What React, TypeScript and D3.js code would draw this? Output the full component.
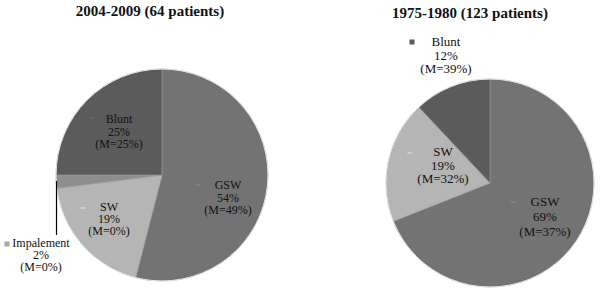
import React from "react";
import * as d3 from "d3";

const leftCategories = ["GSW", "SW", "Impalement", "Blunt"];
const leftValues = [54, 19, 2, 25];
const leftMortality = ["49%", "0%", "0%", "25%"];
const leftTitle = "2004-2009 (64 patients)";

const rightCategories = ["GSW", "SW", "Blunt"];
const rightValues = [69, 19, 12];
const rightMortality = ["37%", "32%", "39%"];
const rightTitle = "1975-1980 (123 patients)";

const colorMap: Record<string, string> = {
  GSW: "#737373",
  SW: "#b5b5b5",
  Impalement: "#8d8d8d",
  Blunt: "#5b5b5b",
};

type LabelPos = { x: number; y: number; mx: number; my: number; gap: number; outside?: boolean };

const leftLabels: Record<string, LabelPos> = {
  GSW: { x: 228, y: 189, mx: 198, my: 185, gap: 12.5 },
  SW: { x: 109, y: 211, mx: 83, my: 208, gap: 12 },
  Impalement: { x: 41, y: 247, mx: 7, my: 244, gap: 12, outside: true },
  Blunt: { x: 119, y: 123, mx: 92, my: 118, gap: 12.5 },
};
const rightLabels: Record<string, LabelPos> = {
  GSW: { x: 545, y: 206, mx: 513, my: 202, gap: 15 },
  SW: { x: 443, y: 156, mx: 410, my: 153, gap: 13.5 },
  Blunt: { x: 446, y: 46, mx: 412, my: 42, gap: 13.5, outside: true },
};

function Pie({ cats, vals, mort, cx, cy, r, labels, fontSize }: any) {
  const data = cats.map((c: string, i: number) => ({ c, v: vals[i], m: mort[i] }));
  const pie = d3.pie<any>().sort(null).value((d) => d.v);
  const arc = d3.arc<any>().innerRadius(0).outerRadius(r);
  const arcs = pie(data);
  return (
    <g>
      <g transform={`translate(${cx},${cy})`}>
        {arcs.map((a, i) => (
          <path key={i} d={arc(a) as string} fill={colorMap[a.data.c]} stroke="#9a9a9a" strokeWidth={0.6} />
        ))}
        <circle r={r} fill="none" stroke="#e6e6e6" strokeWidth={1} />
      </g>
      {arcs.map((a, i) => {
        const L = labels[a.data.c];
        const markerColor = L.outside ? (a.data.c === "Blunt" ? "#5b5b5b" : "#a8a8a8") : d3.color(colorMap[a.data.c])!.brighter(0.35).toString();
        return (
          <g key={"l" + i}>
            <rect x={L.mx - 2.5} y={L.my - (L.outside ? 2.5 : 1)} width={5} height={L.outside ? 5 : 2} fill={markerColor} />
            <text textAnchor="middle" fontFamily="'Liberation Serif', 'Times New Roman', serif" fontSize={fontSize} fill="#111">
              <tspan x={L.x} y={L.y}>{a.data.c}</tspan>
              <tspan x={L.x} y={L.y + L.gap}>{a.data.v + "%"}</tspan>
              <tspan x={L.x} y={L.y + 2 * L.gap}>{"(M=" + a.data.m + ")"}</tspan>
            </text>
          </g>
        );
      })}
    </g>
  );
}

export default function App() {
  return (
    <svg width={601} height={297} style={{ position: "absolute", left: 0, top: 0, background: "#fff" }}>
      <rect width={601} height={297} fill="#fff" />
      <text x={150} y={16} textAnchor="middle" fontFamily="'Liberation Serif', 'Times New Roman', serif" fontWeight="bold" fontSize={15} fill="#111">
        {leftTitle}
      </text>
      <text x={470} y={18} textAnchor="middle" fontFamily="'Liberation Serif', 'Times New Roman', serif" fontWeight="bold" fontSize={15} fill="#111">
        {rightTitle}
      </text>
      <Pie cats={leftCategories} vals={leftValues} mort={leftMortality} cx={162} cy={175} r={106} labels={leftLabels} fontSize={12} />
      <line x1={56.5} y1={181} x2={56.5} y2={235} stroke="#000" strokeWidth={1.2} />
      <Pie cats={rightCategories} vals={rightValues} mort={rightMortality} cx={490} cy={183} r={104} labels={rightLabels} fontSize={13} />
    </svg>
  );
}
